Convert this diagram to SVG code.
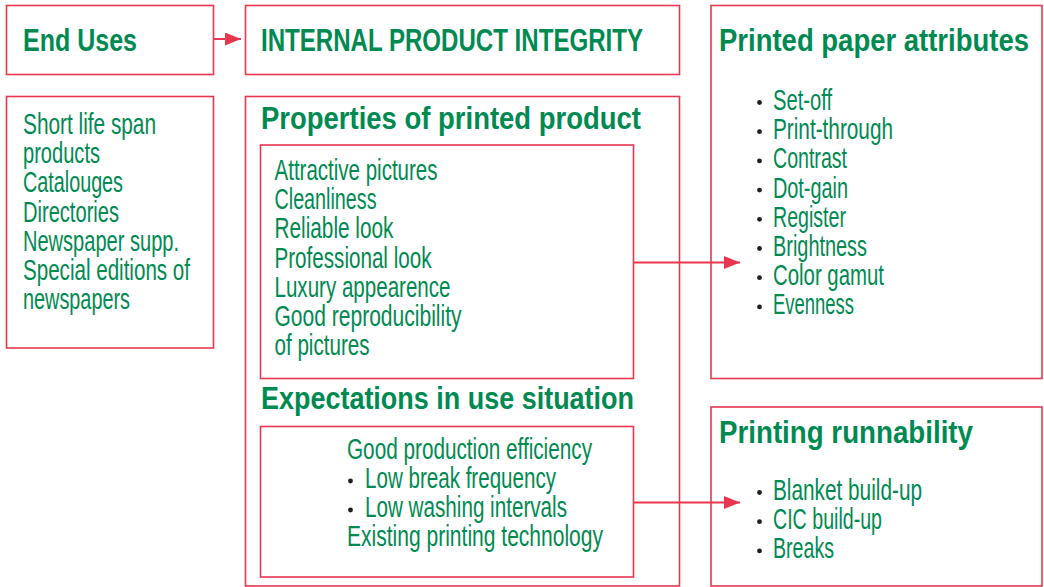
<svg xmlns="http://www.w3.org/2000/svg" width="1044" height="587" viewBox="0 0 1044 587">
<style>
.box{fill:#fff;stroke:#e8364f;stroke-width:1.6}
.h{font-family:"Liberation Sans Narrow","Liberation Sans",sans-serif;font-weight:bold;font-size:31px;fill:#008a52}
.t{font-family:"Liberation Sans Narrow","Liberation Sans",sans-serif;font-size:29px;fill:#008a52}
.b{fill:#1e1e1e}
.conn{stroke:#e8364f;stroke-width:2;fill:none}
</style>
<defs>
<marker id="ah" markerUnits="userSpaceOnUse" markerWidth="18" markerHeight="14" refX="16" refY="6.5" orient="auto">
<path d="M0,0 L16,6.5 L0,13 Z" fill="#e8364f"/>
</marker>
</defs>
<rect width="1044" height="587" fill="#fff"/>

<g id="end-uses">
<rect class="box" x="6.5" y="5.5" width="207" height="69"/>
<text class="h" x="23" y="51" textLength="114" lengthAdjust="spacingAndGlyphs">End Uses</text>
</g>

<g id="internal-product-integrity">
<rect class="box" x="245.5" y="5.5" width="434" height="69"/>
<text class="h" x="261" y="51" textLength="382" lengthAdjust="spacingAndGlyphs">INTERNAL PRODUCT INTEGRITY</text>
</g>

<g id="end-uses-list">
<rect class="box" x="6.5" y="96.5" width="207" height="251.5"/>
<text class="t" x="23" y="134" textLength="133" lengthAdjust="spacingAndGlyphs">Short life span</text>
<text class="t" x="23" y="163.2" textLength="77" lengthAdjust="spacingAndGlyphs">products</text>
<text class="t" x="23" y="192.4" textLength="100" lengthAdjust="spacingAndGlyphs">Catalouges</text>
<text class="t" x="23" y="221.6" textLength="96" lengthAdjust="spacingAndGlyphs">Directories</text>
<text class="t" x="23" y="250.8" textLength="156" lengthAdjust="spacingAndGlyphs">Newspaper supp.</text>
<text class="t" x="23" y="280" textLength="167" lengthAdjust="spacingAndGlyphs">Special editions of</text>
<text class="t" x="23" y="309.2" textLength="107" lengthAdjust="spacingAndGlyphs">newspapers</text>
</g>

<g id="properties-outer">
<rect class="box" x="245.5" y="96.5" width="434" height="489.5"/>
<text class="h" x="261" y="128.5" textLength="380" lengthAdjust="spacingAndGlyphs">Properties of printed product</text>
<text class="h" x="261" y="409" textLength="373" lengthAdjust="spacingAndGlyphs">Expectations in use situation</text>
</g>

<g id="properties-list">
<rect class="box" x="260.5" y="145" width="373" height="233.5"/>
<text class="t" x="274.5" y="180" textLength="163" lengthAdjust="spacingAndGlyphs">Attractive pictures</text>
<text class="t" x="274.5" y="209.2" textLength="102" lengthAdjust="spacingAndGlyphs">Cleanliness</text>
<text class="t" x="274.5" y="238.4" textLength="119" lengthAdjust="spacingAndGlyphs">Reliable look</text>
<text class="t" x="274.5" y="267.6" textLength="157" lengthAdjust="spacingAndGlyphs">Professional look</text>
<text class="t" x="274.5" y="296.8" textLength="176" lengthAdjust="spacingAndGlyphs">Luxury appearence</text>
<text class="t" x="274.5" y="326" textLength="187" lengthAdjust="spacingAndGlyphs">Good reproducibility</text>
<text class="t" x="274.5" y="355.2" textLength="95" lengthAdjust="spacingAndGlyphs">of pictures</text>
</g>

<g id="expectations-list">
<rect class="box" x="260.5" y="426.5" width="373" height="150.5"/>
<text class="t" x="347" y="458.5" textLength="245" lengthAdjust="spacingAndGlyphs">Good production efficiency</text>
<circle class="b" cx="350.5" cy="481" r="2.4"/>
<text class="t" x="365" y="488" textLength="191" lengthAdjust="spacingAndGlyphs">Low break frequency</text>
<circle class="b" cx="350.5" cy="510" r="2.4"/>
<text class="t" x="365" y="517.2" textLength="202" lengthAdjust="spacingAndGlyphs">Low washing intervals</text>
<text class="t" x="347" y="546.4" textLength="256" lengthAdjust="spacingAndGlyphs">Existing printing technology</text>
</g>

<g id="printed-paper-attributes">
<rect class="box" x="711" y="5.5" width="331" height="373"/>
<text class="h" x="719" y="51" font-size="29" textLength="310" lengthAdjust="spacingAndGlyphs">Printed paper attributes</text>
<circle class="b" cx="759.5" cy="102.5" r="2.4"/>
<text class="t" x="773" y="110" textLength="59" lengthAdjust="spacingAndGlyphs">Set-off</text>
<circle class="b" cx="759.5" cy="131.7" r="2.4"/>
<text class="t" x="773" y="139.2" textLength="120" lengthAdjust="spacingAndGlyphs">Print-through</text>
<circle class="b" cx="759.5" cy="160.9" r="2.4"/>
<text class="t" x="773" y="168.4" textLength="74" lengthAdjust="spacingAndGlyphs">Contrast</text>
<circle class="b" cx="759.5" cy="190.1" r="2.4"/>
<text class="t" x="773" y="197.6" textLength="75" lengthAdjust="spacingAndGlyphs">Dot-gain</text>
<circle class="b" cx="759.5" cy="219.3" r="2.4"/>
<text class="t" x="773" y="226.8" textLength="73" lengthAdjust="spacingAndGlyphs">Register</text>
<circle class="b" cx="759.5" cy="248.5" r="2.4"/>
<text class="t" x="773" y="256" textLength="94" lengthAdjust="spacingAndGlyphs">Brightness</text>
<circle class="b" cx="759.5" cy="277.7" r="2.4"/>
<text class="t" x="773" y="285.2" textLength="111" lengthAdjust="spacingAndGlyphs">Color gamut</text>
<circle class="b" cx="759.5" cy="306.9" r="2.4"/>
<text class="t" x="773" y="314.4" textLength="81" lengthAdjust="spacingAndGlyphs">Evenness</text>
</g>

<g id="printing-runnability">
<rect class="box" x="711" y="407" width="331" height="179"/>
<text class="h" x="719" y="442.5" textLength="254" lengthAdjust="spacingAndGlyphs">Printing runnability</text>
<circle class="b" cx="759.5" cy="492.5" r="2.4"/>
<text class="t" x="773" y="500" textLength="149" lengthAdjust="spacingAndGlyphs">Blanket build-up</text>
<circle class="b" cx="759.5" cy="521.7" r="2.4"/>
<text class="t" x="773" y="529.2" textLength="109" lengthAdjust="spacingAndGlyphs">CIC build-up</text>
<circle class="b" cx="759.5" cy="550.9" r="2.4"/>
<text class="t" x="773" y="558.4" textLength="61" lengthAdjust="spacingAndGlyphs">Breaks</text>
</g>

<g id="connectors">
<line class="conn" x1="213.5" y1="39" x2="241" y2="39" marker-end="url(#ah)"/>
<line class="conn" x1="633.5" y1="262.5" x2="740" y2="262.5" marker-end="url(#ah)"/>
<line class="conn" x1="633.5" y1="502.5" x2="740" y2="502.5" marker-end="url(#ah)"/>
</g>
</svg>
